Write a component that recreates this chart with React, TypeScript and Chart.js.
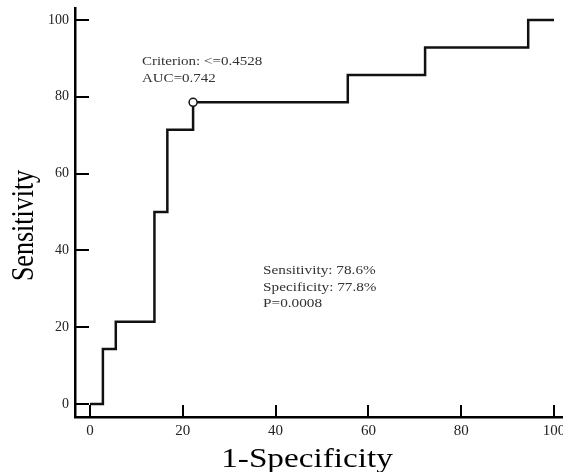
import React, { useEffect, useRef } from 'react';
import { Chart, registerables } from 'chart.js';

Chart.register(...registerables);

// ROC curve data (1-Specificity %, Sensitivity %)
const fprValues = [0, 2.78, 5.56, 13.89, 16.67, 22.22, 55.56, 72.22, 94.44, 100];
const tprValues = [0, 14.29, 21.43, 50, 71.43, 78.57, 85.71, 92.86, 100, 100];
const cutoffX = [22.22];
const cutoffY = [78.57];
const xTickValues = [0, 20, 40, 60, 80, 100];
const yTickValues = [0, 20, 40, 60, 80, 100];
const criterionLines = ['Criterion: <=0.4528', 'AUC=0.742'];
const statsLines = ['Sensitivity: 78.6%', 'Specificity: 77.8%', 'P=0.0008'];
const xTitle = '1-Specificity';
const yTitle = 'Sensitivity';

const SERIF = '"Liberation Serif", "Times New Roman", serif';

function stretchedText(ctx: CanvasRenderingContext2D, text: string, x: number, y: number, sx: number) {
  ctx.save();
  ctx.translate(x, y);
  ctx.scale(sx, 1);
  ctx.fillText(text, 0, 0);
  ctx.restore();
}

const decorPlugin = {
  id: 'decor',
  afterDraw(chart: any) {
    const { ctx, scales, chartArea } = chart;
    const xs = scales.x;
    const ys = scales.y;
    ctx.save();
    // inward tick marks
    ctx.strokeStyle = '#000';
    ctx.lineWidth = 2;
    ctx.beginPath();
    yTickValues.forEach((v) => {
      const py = Math.round(ys.getPixelForValue(v));
      ctx.moveTo(chartArea.left, py);
      ctx.lineTo(chartArea.left + 14, py);
    });
    xTickValues.forEach((v) => {
      const px = Math.round(xs.getPixelForValue(v));
      ctx.moveTo(px, chartArea.bottom);
      ctx.lineTo(px, chartArea.bottom - 12);
    });
    ctx.stroke();

    // annotations
    ctx.fillStyle = '#333';
    ctx.font = `12.5px ${SERIF}`;
    ctx.textAlign = 'left';
    ctx.textBaseline = 'alphabetic';
    const cx = xs.getPixelForValue(11.2);
    const cy = ys.getPixelForValue(88.2);
    criterionLines.forEach((t, i) => stretchedText(ctx, t, cx, cy + i * 17, 1.2));
    const sx0 = xs.getPixelForValue(37.3);
    const sy0 = ys.getPixelForValue(33.8);
    statsLines.forEach((t, i) => stretchedText(ctx, t, sx0, sy0 + i * 16.5, 1.22));

    // axis titles
    ctx.fillStyle = '#000';
    ctx.font = `27px ${SERIF}`;
    ctx.textAlign = 'center';
    stretchedText(ctx, xTitle, 307, chart.height - 5, 1.23);

    ctx.font = `26px ${SERIF}`;
    ctx.save();
    ctx.translate(33, 225.5);
    ctx.scale(1.2, 1);
    ctx.rotate(-Math.PI / 2);
    ctx.fillText(yTitle, 0, 0);
    ctx.restore();

    ctx.restore();
  },
};

export default function App() {
  const canvasRef = useRef<HTMLCanvasElement | null>(null);

  useEffect(() => {
    if (!canvasRef.current) return;
    const rocData = fprValues.map((x, i) => ({ x, y: tprValues[i] }));
    const cutData = cutoffX.map((x, i) => ({ x, y: cutoffY[i] }));
    const chart = new Chart(canvasRef.current, {
      type: 'line',
      data: {
        datasets: [
          {
            label: 'Cutoff',
            data: cutData,
            showLine: false,
            pointRadius: 4,
            pointBackgroundColor: '#fff',
            pointBorderColor: '#111',
            pointBorderWidth: 1.5,
          },
          {
            label: 'ROC',
            data: rocData,
            stepped: 'before',
            borderColor: '#111',
            borderWidth: 2.5,
            pointRadius: 0,
            fill: false,
          },
        ],
      },
      options: {
        animation: false,
        responsive: true,
        maintainAspectRatio: false,
        layout: { autoPadding: false, padding: { top: 8, left: 0, right: 0, bottom: 0 } },
        plugins: { legend: { display: false }, tooltip: { enabled: false } },
        scales: {
          x: {
            type: 'linear',
            min: -3.23,
            max: 101.94,
            grid: { display: false, drawTicks: false },
            border: { display: true, color: '#000', width: 2.5 },
            ticks: { font: { family: SERIF, size: 15 }, color: '#222', padding: 5, maxRotation: 0 },
            afterBuildTicks: (s: any) => {
              s.ticks = xTickValues.map((v) => ({ value: v }));
            },
            afterFit: (s: any) => {
              s.height = 55;
              s.paddingLeft = 0;
              s.paddingRight = 0;
            },
          },
          y: {
            type: 'linear',
            min: -3.39,
            max: 103.13,
            grid: { display: false, drawTicks: false },
            border: { display: true, color: '#000', width: 2.5 },
            ticks: { font: { family: SERIF, size: 14 }, color: '#222', padding: 6 },
            afterBuildTicks: (s: any) => {
              s.ticks = yTickValues.map((v) => ({ value: v }));
            },
            afterFit: (s: any) => {
              s.width = 75;
              s.paddingTop = 0;
              s.paddingBottom = 0;
            },
          },
        },
      },
      plugins: [decorPlugin],
    });
    return () => chart.destroy();
  }, []);

  return (
    <div style={{ position: 'absolute', left: 0, top: 0, width: 563, height: 472, background: '#fff' }}>
      <canvas ref={canvasRef} />
    </div>
  );
}
